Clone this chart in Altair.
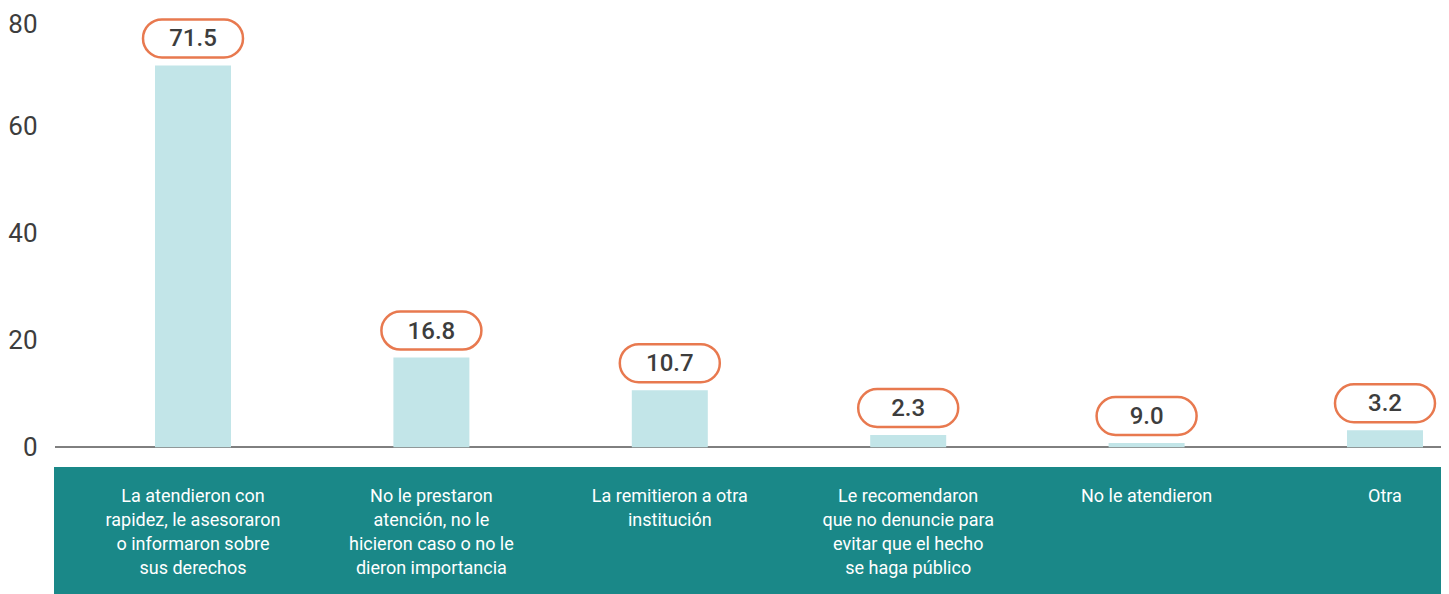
import altair as alt
import pandas as pd

categories = [
    "La atendieron con\nrapidez, le asesoraron\no informaron sobre\nsus derechos",
    "No le prestaron\natención, no le\nhicieron caso o no le\ndieron importancia",
    "La remitieron a otra\ninstitución",
    "Le recomendaron\nque no denuncie para\nevitar que el hecho\nse haga público",
    "No le atendieron",
    "Otra",
]
values = [71.5, 16.8, 10.7, 2.3, 0.8, 3.2]
value_labels = ["71.5", "16.8", "10.7", "2.3", "9.0", "3.2"]
y_ticks = [0, 20, 40, 60, 80]

df = pd.DataFrame({
    "idx": list(range(len(categories))),
    "cat": categories,
    "value": values,
    "label": value_labels,
})

W = 1386
TOP = 12
H = 574
TEAL = "#1a8888"
BAR = "#c2e5e8"
ORANGE = "#e8794f"
DARK = "#3d3d3d"

# y: 80 at plot top, 0 at 447.3 px on page
px_per_unit = (447.3 - (8 + TOP)) / 80.0
y_min = -(H - 80 * px_per_unit) / px_per_unit
step = 238.4
x_lo = -138.0 / step
x_hi = x_lo + W / step

xs = alt.Scale(domain=[x_lo, x_hi], nice=False, zero=False, padding=0)
ys = alt.Scale(domain=[y_min, 80], nice=False, zero=False, padding=0)

base = alt.Chart(df)

band = alt.Chart(df).mark_rect(color=TEAL).encode(
    x=alt.value(-1), x2=alt.value(W), y=alt.value(467.3 - 8 - TOP), y2=alt.value(H + 10)
)

baseline = alt.Chart(df).mark_rule(color="#7f7f7f", strokeWidth=1.5).encode(
    y=alt.datum(0, scale=ys)
)

bars = base.mark_bar(width=76, color=BAR).encode(
    x=alt.X("idx:Q", scale=xs, axis=None),
    y=alt.Y("value:Q", scale=ys,
            axis=alt.Axis(values=y_ticks, grid=False, domain=False, ticks=False,
                          labelPadding=18, labelFontSize=26, labelColor=DARK,
                          labelFont="Roboto", title=None,
                          labelOffset=alt.ExprRef("datum.value == 80 ? 4 : 0"))),
    y2=alt.datum(0),
)

boxes = base.mark_bar(width=100, yOffset=-46, y2Offset=-8, cornerRadius=19,
                      fill="white", stroke=ORANGE, strokeWidth=2.5).encode(
    x=alt.X("idx:Q", scale=xs, axis=None),
    y=alt.Y("value:Q", scale=ys),
    y2=alt.Y2("value:Q"),
)

vlabels = base.mark_text(yOffset=-27, dy=1, baseline="middle", align="center",
                         font="Roboto", fontSize=24, fontWeight=500, color=DARK).encode(
    x=alt.X("idx:Q", scale=xs, axis=None),
    y=alt.Y("value:Q", scale=ys),
    text="label:N",
)

cats = base.mark_text(baseline="top", align="center", font="Roboto", fontSize=18,
                      lineBreak="\n", lineHeight=24, color="white").encode(
    x=alt.X("idx:Q", scale=xs, axis=None),
    y=alt.value(468),
    text="cat:N",
)

chart = alt.layer(band, baseline, bars, boxes, vlabels, cats).properties(
    width=W, height=H,
    autosize=alt.AutoSizeParams(type="none"),
    padding={"left": 47, "top": TOP, "right": 0, "bottom": 0},
).configure_view(strokeWidth=0)

chart.save("out.html", embed_options={"renderer": "svg", "actions": False})
